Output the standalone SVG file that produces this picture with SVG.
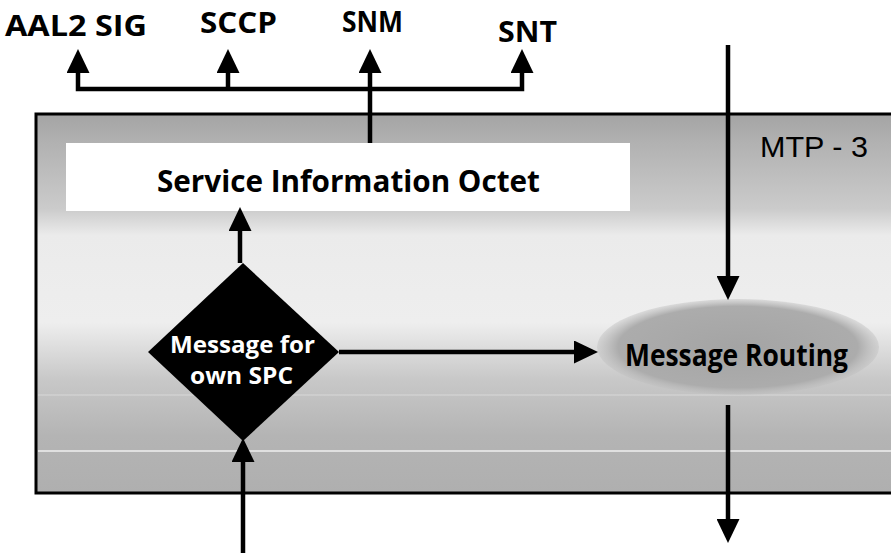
<svg xmlns="http://www.w3.org/2000/svg" width="891" height="553" viewBox="0 0 891 553">
  <style>
    .lbl { font-family: "Open Sans", "Liberation Sans", sans-serif; font-weight: 700; fill: #000; }
    .top { font-size: 29px; }
    .inv { fill: #fff; font-size: 24px; }
    .wire { fill: none; stroke: #000; stroke-width: 4.5; }
  </style>
  <defs>
    <marker id="head" markerUnits="userSpaceOnUse" markerWidth="24" markerHeight="23" refX="0" refY="11.5" orient="auto-start-reverse">
      <path d="M0,0 L24,11.5 L0,23 z" fill="#000"/>
    </marker>
    <linearGradient id="mtpFill" x1="0" y1="0" x2="0" y2="1">
      <stop offset="0" stop-color="#a4a4a4"/>
      <stop offset="0.08" stop-color="#b2b2b2"/>
      <stop offset="0.25" stop-color="#cbcbcb"/>
      <stop offset="0.32" stop-color="#ebebeb"/>
      <stop offset="0.55" stop-color="#eeeeee"/>
      <stop offset="0.7" stop-color="#c8c8c8"/>
      <stop offset="0.85" stop-color="#b4b4b4"/>
      <stop offset="1" stop-color="#afafaf"/>
    </linearGradient>
    <radialGradient id="routeFill" cx="0.5" cy="0.5" r="0.5">
      <stop offset="0" stop-color="#a4a4a4"/>
      <stop offset="0.85" stop-color="#acacac"/>
      <stop offset="1" stop-color="#bdbdbd" stop-opacity="0.4"/>
    </radialGradient>
  </defs>

  <rect width="891" height="553" fill="#fff"/>

  <!-- MTP-3 layer box -->
  <g id="mtp3">
    <rect x="36" y="114" width="870" height="379" fill="url(#mtpFill)" stroke="#000" stroke-width="3"/>
    <line x1="38" y1="451" x2="891" y2="451" stroke="#fff" stroke-width="2" opacity="0.6"/>
    <line x1="38" y1="395" x2="891" y2="395" stroke="#fff" stroke-width="1.5" opacity="0.25"/>
    <text x="760" y="157" font-family="'Liberation Sans', Arial, sans-serif" font-size="29" textLength="108" lengthAdjust="spacingAndGlyphs" fill="#000">MTP - 3</text>
  </g>

  <!-- service information octet field -->
  <g id="sio">
    <rect x="66" y="143" width="564" height="68" fill="#fff"/>
    <text class="lbl" x="157" y="192" font-size="31" textLength="383" lengthAdjust="spacingAndGlyphs">Service Information Octet</text>
  </g>

  <!-- upper-layer users -->
  <g id="aal2sig"><text class="lbl top" x="5" y="36" textLength="142" lengthAdjust="spacingAndGlyphs">AAL2 SIG</text></g>
  <g id="sccp"><text class="lbl top" x="200" y="33" textLength="77" lengthAdjust="spacingAndGlyphs">SCCP</text></g>
  <g id="snm"><text class="lbl top" x="342" y="32" textLength="61" lengthAdjust="spacingAndGlyphs">SNM</text></g>
  <g id="snt"><text class="lbl top" x="498" y="42" textLength="59" lengthAdjust="spacingAndGlyphs">SNT</text></g>

  <!-- decision: message for own signalling point -->
  <g id="own-spc">
    <polygon points="243,263 339,352 243,441 148,352" fill="#000"/>
    <text class="lbl inv" x="170" y="353" textLength="145" lengthAdjust="spacingAndGlyphs">Message for</text>
    <text class="lbl inv" x="190" y="384" textLength="103" lengthAdjust="spacingAndGlyphs">own SPC</text>
  </g>

  <!-- message routing -->
  <g id="routing">
    <ellipse cx="738" cy="347" rx="141" ry="48" fill="url(#routeFill)"/>
    <text class="lbl" x="625" y="366" font-size="31" textLength="223" lengthAdjust="spacingAndGlyphs">Message Routing</text>
  </g>

  <g id="connectors">
    <path class="wire" d="M78,73 V89 H522 V73" marker-start="url(#head)" marker-end="url(#head)"/>
    <line class="wire" x1="228" y1="89" x2="228" y2="73" marker-end="url(#head)"/>
    <line class="wire" x1="370" y1="143" x2="370" y2="73" marker-end="url(#head)"/>
    <line class="wire" x1="240" y1="263" x2="240" y2="231" marker-end="url(#head)"/>
    <line class="wire" x1="243" y1="553" x2="243" y2="462" marker-end="url(#head)"/>
    <line class="wire" x1="339" y1="352" x2="574" y2="352" marker-end="url(#head)"/>
    <line class="wire" x1="728" y1="45" x2="728" y2="276" marker-end="url(#head)"/>
    <line class="wire" x1="728" y1="405" x2="728" y2="519" marker-end="url(#head)"/>
  </g>
</svg>
